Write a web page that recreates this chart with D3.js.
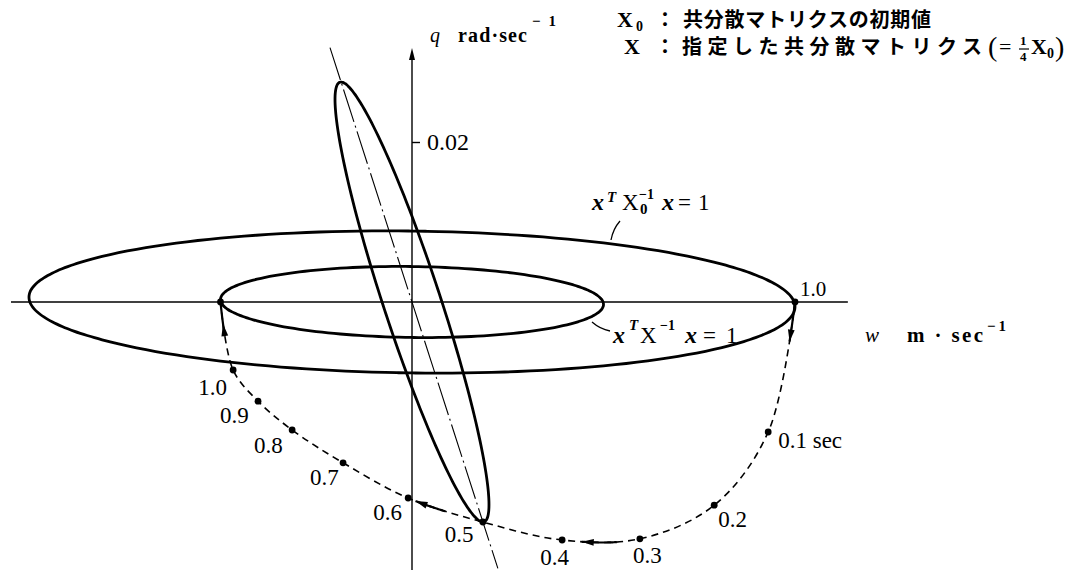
<!DOCTYPE html>
<html>
<head>
<meta charset="utf-8">
<script src="https://cdn.jsdelivr.net/npm/d3@7"></script>
<style>
body{margin:0;background:#fff;}
svg{display:block;}
text{font-family:"Liberation Serif","DejaVu Serif",serif;fill:#000;}
.jp{font-family:"Noto Sans CJK JP",sans-serif;font-weight:700;}
</style>
</head>
<body>
<svg id="chart"></svg>
<script>
// axis extents, w in m/sec and q in rad/sec
const wAxisRange = [-1.047, 1.138];
const qAxisRange = [-0.0335, 0.0315];
const qTicks = [0.02];
const wTicks = [1.0];

// covariance matrices [[ww, wq], [wq, qq]]
const X0 = [[1.0, -0.0006], [-0.0006, 0.0000790]];
const Xspec = X0.map(r => r.map(v => v / 4));        // X = X0 / 4
const Xmid = [[0.0404, -0.00509], [-0.00509, 0.000756]];  // ellipse through the 0.5 sec point
const majorAxisQ = [0.0318, -0.0333];

// trajectory of the boundary point
const pathLabels = ["", "0.1 sec", "0.2", "0.3", "0.4", "0.5", "0.6", "0.7", "0.8", "0.9", "1.0", ""];
const pathW = [1.0, 0.930, 0.789, 0.595, 0.392, 0.185, -0.010, -0.180, -0.313, -0.402, -0.467, -0.5];
const pathQ = [0, -0.01625, -0.0254, -0.0296, -0.02975, -0.0275, -0.0245, -0.0201, -0.016, -0.0124, -0.0085, 0];

// arrows along the trajectory, in point-index units: solid part and tip
const arrowSpans = [[0, 0.3], [3.3, 3.75], [5.5, 5.9], [10.5, 11]];
const arrowTips = [0.3, 3.75, 5.9, 10.68];

// label offsets from the points (layout only)
const labelOffsets = [[0,0],[10,16],[4,22],[-7,24],[-22,25],[-38,20],[-35,22],[-33,22],[-38,23],[-38,22],[-35,25],[0,0]];

let svg = d3.select("#chart").attr("width", 1068).attr("height", 574);

let x = d3.scaleLinear().domain([0, 1]).range([412, 795]);
let y = d3.scaleLinear().domain([0, 0.02]).range([302, 142]);

// axes
svg.append("line")
	.attr("x1", x(wAxisRange[0])).attr("x2", x(wAxisRange[1]))
	.attr("y1", y(0)).attr("y2", y(0))
	.attr("stroke", "#000").attr("stroke-width", 1.4);
svg.append("line")
	.attr("x1", x(0)).attr("x2", x(0))
	.attr("y1", y(qAxisRange[0])).attr("y2", y(qAxisRange[1]) + 4)
	.attr("stroke", "#000").attr("stroke-width", 1.4);
svg.append("path")
	.attr("d", `M${x(0)},${y(qAxisRange[1]) - 2} l-3,12 l6,0 z`)
	.attr("fill", "#000");

let qAxis = svg.append("g")
	.attr("transform", `translate(${x(0)},0)`)
	.call(d3.axisRight(y).tickValues(qTicks).tickSize(8).tickPadding(7).tickSizeOuter(0).tickFormat(d3.format(".2f")));
qAxis.select(".domain").remove();
qAxis.selectAll("line").attr("stroke-width", 1.4);
qAxis.selectAll("text").attr("font-size", 24).attr("font-family", "Liberation Serif");

svg.selectAll(".wtick").data(wTicks).join("text")
	.attr("class", "wtick")
	.attr("x", d => x(d) + 5).attr("y", y(0) - 6)
	.attr("font-size", 21)
	.text(d => d3.format(".1f")(d));

// dash-dot major axis of the 0.5 sec ellipse
let topQ = Math.sqrt(Xmid[1][1]);
let topW = Xmid[0][1] / topQ;
svg.append("line")
	.attr("x1", x(majorAxisQ[0] * topW / topQ)).attr("y1", y(majorAxisQ[0]))
	.attr("x2", x(majorAxisQ[1] * topW / topQ)).attr("y2", y(majorAxisQ[1]))
	.attr("stroke", "#000").attr("stroke-width", 1.1)
	.attr("stroke-dasharray", "34,4,2,4");

// ellipses x' P^-1 x = 1
function ellipsePoints(P){
	let a = Math.sqrt(P[0][0]);
	let b = P[0][1] / a;
	let c = Math.sqrt(P[1][1] - b * b);
	return d3.range(0, 360, 2).map(deg => {
		let t = deg * Math.PI / 180;
		return [a * Math.cos(t), b * Math.cos(t) + c * Math.sin(t)];
	});
}
let ellLine = d3.line().x(d => x(d[0])).y(d => y(d[1])).curve(d3.curveCardinalClosed);
svg.selectAll(".ell").data([X0, Xspec, Xmid]).join("path")
	.attr("class", "ell")
	.attr("d", d => ellLine(ellipsePoints(d)))
	.attr("fill", "none").attr("stroke", "#000").attr("stroke-width", 2.8);

// trajectory
let pts = pathW.map((w, i) => [w, pathQ[i]]);
let trajLine = d3.line().x(d => x(d[0])).y(d => y(d[1])).curve(d3.curveCatmullRom.alpha(0.5));
let traj = svg.append("path")
	.attr("d", trajLine(pts))
	.attr("fill", "none").attr("stroke", "#000").attr("stroke-width", 1.6)
	.attr("stroke-dasharray", "7,5");

let node = traj.node();
let total = node.getTotalLength();
let samples = d3.range(0, total, 0.5).map(l => {
	let p = node.getPointAtLength(l);
	return {l: l, x: p.x, y: p.y};
});
let ptLen = pts.map(d => {
	let px = x(d[0]), py = y(d[1]);
	return d3.least(samples, s => (s.x - px) ** 2 + (s.y - py) ** 2).l;
});
ptLen[0] = 0;
ptLen[pts.length - 1] = total;

function lenAt(s){
	let i = Math.min(Math.floor(s), pts.length - 2);
	return ptLen[i] + (s - i) * (ptLen[i + 1] - ptLen[i]);
}

svg.selectAll(".solid").data(arrowSpans).join("path")
	.attr("class", "solid")
	.attr("d", d => {
		let l0 = lenAt(d[0]), l1 = lenAt(d[1]);
		let ps = d3.range(l0, l1, 1).concat([l1]).map(l => node.getPointAtLength(l));
		return d3.line().x(p => p.x).y(p => p.y)(ps);
	})
	.attr("fill", "none").attr("stroke", "#000").attr("stroke-width", 2.2);

svg.selectAll(".head").data(arrowTips).join("path")
	.attr("class", "head")
	.attr("d", s => {
		let l = lenAt(s);
		let tip = node.getPointAtLength(l);
		let back = node.getPointAtLength(Math.max(0, l - 12));
		let dx = tip.x - back.x, dy = tip.y - back.y;
		let n = Math.sqrt(dx * dx + dy * dy);
		let ux = dx / n, uy = dy / n;
		let bx = tip.x - ux * 12, by = tip.y - uy * 12;
		return `M${tip.x},${tip.y} L${bx - uy * 3.4},${by + ux * 3.4} L${bx + uy * 3.4},${by - ux * 3.4} Z`;
	})
	.attr("fill", "#000");

svg.selectAll(".dot").data(pts).join("circle")
	.attr("class", "dot")
	.attr("cx", d => x(d[0])).attr("cy", d => y(d[1]))
	.attr("r", 3.4).attr("fill", "#000");

svg.selectAll(".tlab").data(pts).join("text")
	.attr("class", "tlab")
	.attr("x", (d, i) => x(d[0]) + labelOffsets[i][0])
	.attr("y", (d, i) => y(d[1]) + labelOffsets[i][1])
	.attr("font-size", 23)
	.text((d, i) => pathLabels[i]);

// text built from small pieces
function drawPieces(x0, y0, pieces){
	let g = svg.append("g").attr("transform", `translate(${x0},${y0})`);
	g.selectAll("text").data(pieces).join("text")
		.attr("x", d => d.dx).attr("y", d => d.dy || 0)
		.attr("font-size", d => d.size)
		.attr("font-style", d => d.it ? "italic" : "normal")
		.attr("font-weight", d => d.b ? 700 : 400)
		.attr("class", d => d.jp ? "jp" : null)
		.attr("textLength", d => d.len || null)
		.attr("lengthAdjust", d => d.len ? "spacing" : null)
		.text(d => d.t);
	return g;
}

// ellipse labels and leaders
drawPieces(592, 210, [
	{t: "x", dx: 0, size: 24, it: true, b: true},
	{t: "T", dx: 15, dy: -8, size: 15, it: true, b: true},
	{t: "X", dx: 30, size: 23},
	{t: "−1", dx: 47, dy: -11, size: 14, b: true},
	{t: "0", dx: 48, dy: 4, size: 15, b: true},
	{t: "x", dx: 70, size: 24, it: true, b: true},
	{t: "=", dx: 86, size: 23},
	{t: "1", dx: 106, size: 23}
]);
svg.append("path").attr("d", "M620,221 Q613,229 611,240")
	.attr("fill", "none").attr("stroke", "#000").attr("stroke-width", 1.3);

drawPieces(613, 343, [
	{t: "x", dx: 0, size: 24, it: true, b: true},
	{t: "T", dx: 16, dy: -13, size: 15, it: true, b: true},
	{t: "X", dx: 27, size: 23},
	{t: "−1", dx: 47, dy: -13, size: 14, b: true},
	{t: "x", dx: 72, size: 24, it: true, b: true},
	{t: "=", dx: 90, size: 23},
	{t: "1", dx: 113, size: 23}
]);
svg.append("path").attr("d", "M592,322 Q600,329 610,331")
	.attr("fill", "none").attr("stroke", "#000").attr("stroke-width", 1.3);

// axis titles
drawPieces(430, 42, [
	{t: "q", dx: 0, size: 20, it: true},
	{t: "rad·sec", dx: 28, size: 20, b: true, len: 69},
	{t: "−1", dx: 102, dy: -16, size: 15, b: true, len: 24}
]);
drawPieces(865, 342, [
	{t: "w", dx: 0, size: 21, it: true},
	{t: "m · sec", dx: 42, size: 21, b: true, len: 76},
	{t: "−1", dx: 122, dy: -11, size: 15, b: true, len: 19}
]);

// legend
drawPieces(617, 27, [
	{t: "X", dx: 0, size: 22, b: true},
	{t: "0", dx: 19, dy: 4, size: 14, b: true},
	{t: "：", dx: 38, size: 20, jp: true},
	{t: "共分散マトリクスの初期値", dx: 66, size: 20, jp: true, len: 248}
]);
drawPieces(624, 54, [
	{t: "X", dx: 0, size: 22, b: true},
	{t: "：", dx: 31, size: 20, jp: true},
	{t: "指定した共分散マトリクス", dx: 58, size: 20, jp: true, len: 300},
	{t: "(", dx: 364, dy: 2, size: 28},
	{t: "=", dx: 375, size: 22},
	{t: "1", dx: 396, dy: -9, size: 13, b: true},
	{t: "4", dx: 396, dy: 7, size: 13, b: true},
	{t: "X", dx: 407, size: 22, b: true},
	{t: "0", dx: 423, dy: 4, size: 14, b: true},
	{t: ")", dx: 431, dy: 2, size: 28}
]);
svg.append("line").attr("x1", 1019).attr("x2", 1029).attr("y1", 49).attr("y2", 49)
	.attr("stroke", "#000").attr("stroke-width", 1.2);
</script>
</body>
</html>
